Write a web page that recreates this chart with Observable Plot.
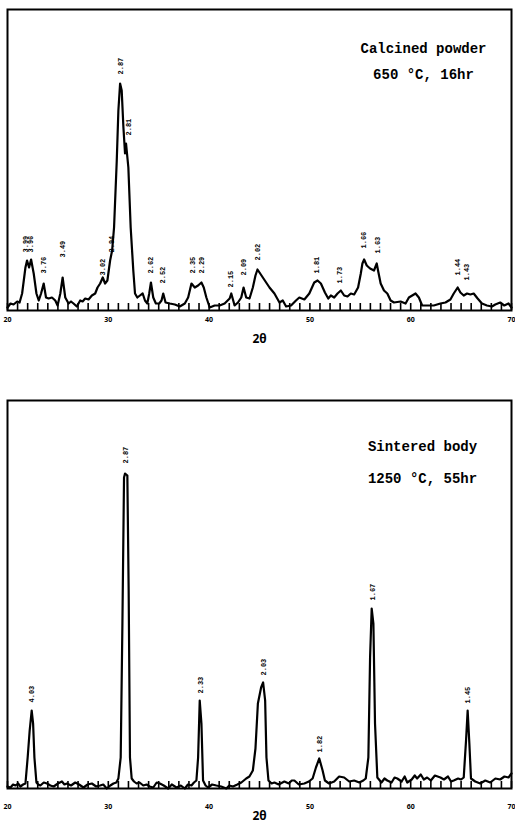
<!DOCTYPE html>
<html><head><meta charset="utf-8">
<script src="https://cdn.jsdelivr.net/npm/d3@7"></script>
<script src="https://cdn.jsdelivr.net/npm/@observablehq/plot@0.6"></script>
<style>body{margin:0;background:#fff} #chart svg{display:block}</style>
</head><body><div id="chart"></div>
<script>
// 2θ (degrees), intensity (arbitrary units)
const calcined = [[20.0,3],[20.3,7],[20.6,6],[20.96,9],[21.2,8],[21.45,17],[21.78,43],[21.94,50],[22.14,43],[22.34,51],[22.6,37],[22.87,17],[23.1,10],[23.33,17],[23.59,27],[23.82,13],[24.08,12],[24.41,13],[24.74,10],[24.97,5],[25.24,17],[25.47,33],[25.73,13],[26.06,7],[26.3,9],[26.55,7],[26.88,4],[27.21,10],[27.45,9],[27.71,12],[28.04,11],[28.37,15],[28.7,17],[28.93,23],[29.19,27],[29.45,33],[29.68,27],[29.91,30],[30.18,50],[30.38,60],[30.57,83],[30.84,150],[31.0,200],[31.17,227],[31.33,220],[31.5,183],[31.66,157],[31.76,167],[31.99,143],[32.22,83],[32.48,40],[32.65,17],[32.88,13],[33.14,15],[33.41,17],[33.64,10],[33.87,7],[34.06,17],[34.23,28],[34.46,13],[34.72,7],[35.05,7],[35.28,10],[35.45,17],[35.68,8],[36.11,7],[36.6,6],[37.09,4],[37.59,7],[37.92,13],[38.25,27],[38.58,23],[38.91,25],[39.24,28],[39.47,23],[39.73,13],[40.06,3],[40.55,5],[41.05,5],[41.54,7],[42.04,12],[42.2,17],[42.53,5],[42.86,8],[43.19,13],[43.42,23],[43.68,13],[44.01,12],[44.34,23],[44.6,35],[44.8,41],[45.0,38],[45.33,33],[45.66,28],[45.99,23],[46.48,17],[46.98,8],[47.31,10],[47.64,4],[48.13,5],[48.62,10],[48.95,13],[49.45,11],[49.94,17],[50.43,28],[50.76,30],[51.09,27],[51.49,18],[51.82,12],[52.08,15],[52.41,13],[52.74,17],[53.07,20],[53.4,15],[53.73,14],[54.06,17],[54.39,16],[54.78,23],[55.05,37],[55.21,47],[55.38,51],[55.64,45],[55.97,42],[56.36,40],[56.63,47],[56.76,40],[57.02,27],[57.35,20],[57.68,17],[58.01,10],[58.34,8],[59.0,9],[59.49,7],[59.82,13],[60.15,15],[60.48,17],[60.81,13],[61.14,5],[61.63,5],[62.29,5],[62.95,7],[63.45,8],[63.94,11],[64.27,17],[64.66,23],[64.93,18],[65.26,15],[65.59,17],[65.92,16],[66.25,17],[66.64,12],[67.07,7],[67.56,5],[68.06,4],[68.39,6],[68.88,8],[69.28,5],[69.7,7],[70.0,3]];

const sintered = [[20.0,2],[20.3,1],[20.55,4],[20.79,3],[21.05,5],[21.28,2],[21.55,4],[21.78,5],[22.0,31],[22.2,58],[22.4,78],[22.54,65],[22.67,31],[22.87,6],[23.05,4],[23.26,3],[23.6,6],[23.92,5],[24.25,3],[24.58,2],[25.0,5],[25.4,7],[25.65,4],[25.9,5],[26.3,3],[26.72,6],[27.1,4],[27.54,1],[27.95,4],[28.37,5],[28.8,2],[29.19,3],[29.5,4],[29.85,0],[30.2,3],[30.51,5],[30.8,6],[31.0,10],[31.23,31],[31.4,165],[31.56,311],[31.66,315],[31.89,313],[32.02,198],[32.15,31],[32.32,10],[32.55,7],[32.81,5],[33.1,6],[33.47,3],[33.8,4],[34.1,2],[34.46,1],[34.8,6],[35.12,5],[35.5,3],[35.94,0],[36.3,4],[36.77,1],[37.2,3],[37.59,0],[37.9,4],[38.25,3],[38.5,6],[38.74,8],[38.91,31],[39.07,88],[39.24,65],[39.4,8],[39.65,3],[39.9,1],[40.3,4],[40.72,3],[41.2,2],[41.71,0],[42.0,3],[42.37,2],[42.8,4],[43.2,6],[43.68,10],[44.0,12],[44.34,18],[44.6,40],[44.84,85],[45.16,101],[45.36,106],[45.56,88],[45.69,31],[45.89,8],[46.2,5],[46.48,6],[46.9,4],[47.47,7],[47.9,5],[48.2,8],[48.46,8],[48.9,4],[49.45,5],[49.9,7],[50.27,10],[50.6,21],[50.93,30],[51.26,18],[51.49,8],[51.9,5],[52.41,7],[52.9,12],[53.4,11],[53.9,7],[54.39,8],[54.9,6],[55.3,8],[55.54,10],[55.8,31],[55.97,131],[56.13,180],[56.3,165],[56.46,65],[56.69,11],[57.1,6],[57.4,10],[57.68,8],[58.1,6],[58.4,11],[58.67,10],[59.1,7],[59.4,12],[59.66,6],[60.1,9],[60.4,13],[60.64,10],[61.0,14],[61.3,9],[61.63,11],[62.0,8],[62.4,13],[62.95,11],[63.3,9],[63.7,12],[64.0,7],[64.27,8],[64.7,10],[65.0,9],[65.26,11],[65.49,48],[65.65,78],[65.82,45],[65.98,10],[66.4,7],[66.9,5],[67.4,8],[67.89,6],[68.4,10],[68.88,9],[69.3,12],[69.7,11],[70.0,15]];

// peak d-spacing labels: 2θ position, label base intensity, text
const calcinedLabelTheta = [21.85,22.3,23.59,25.47,29.45,30.38,31.2,32.06,34.2,35.45,38.35,39.26,42.1,43.45,44.8,50.7,53.0,55.38,56.7,64.66,65.59];
const calcinedLabelBase  = [58,58,37,53,35,58,236,175,37,27,37,37,23,35,50,37,27,62,57,35,30];
const calcinedLabelText  = ["3.99","3.96","3.76","3.49","3.02","2.94","2.87","2.81","2.62","2.52","2.35","2.29","2.15","2.09","2.02","1.81","1.73","1.66","1.63","1.44","1.43"];

const sinteredLabelTheta = [22.44,31.76,39.14,45.43,50.99,56.2,65.68];
const sinteredLabelBase  = [86,325,95,113,36,188,85];
const sinteredLabelText  = ["4.03","2.87","2.33","2.03","1.82","1.67","1.45"];

const majorTicks = [20,30,40,50,60,70];
const minorTicks = d3.range(20, 71, 1);
const calcinedTitle = ["Calcined powder", "650 °C, 16hr"];
const sinteredTitle = ["Sintered body", "1250 °C, 55hr"];
const axisTitle = "2θ";

const mono = "'Liberation Mono', 'DejaVu Sans Mono', monospace";

function labels(theta, base, text) {
  return theta.map((t, i) => ({theta: t, base: base[i], label: text[i]}));
}

function panel({trace, peaks, titles, yMax, height, marginTop, marginBottom, tickPad, axisDy, titleDx, titleDy}) {
  const plotH = height - marginTop - marginBottom;
  const tickLen = yMax * 7 / plotH;   // 7 px inward ticks, in data units
  return Plot.plot({
    width: 515, height, marginLeft: 7, marginRight: 4, marginTop, marginBottom,
    x: {domain: [20, 70], axis: null},
    y: {domain: [0, yMax], axis: null},
    style: {background: "white", color: "black"},
    marks: [
      Plot.ruleX(minorTicks, {x: d => d, y1: 0, y2: tickLen, stroke: "black", strokeWidth: 1.6}),
      Plot.frame({stroke: "black", strokeWidth: 2}),
      Plot.line(trace, {x: d => d[0], y: d => d[1], stroke: "black", strokeWidth: 2.2, strokeLinejoin: "round"}),
      Plot.text(peaks, {x: "theta", y: "base", text: "label", rotate: -90, textAnchor: "start", fontSize: 7, fontWeight: "bold", fontFamily: mono, fill: "black"}),
      Plot.axisX({ticks: majorTicks, tickSize: 0, tickPadding: tickPad, fontSize: 7, fontWeight: "bold", label: null}),
      Plot.text([axisTitle], {text: d => d, frameAnchor: "bottom", dy: axisDy, fontSize: 12, fontWeight: "bold"}),
      Plot.text([titles[0]], {text: d => d, frameAnchor: "top-right", textAnchor: "middle", dx: titleDx, dy: titleDy[0], fontSize: 14, fontWeight: "bold", fontFamily: mono}),
      Plot.text([titles[1]], {text: d => d, frameAnchor: "top-right", textAnchor: "middle", dx: titleDx, dy: titleDy[1], fontSize: 14, fontWeight: "bold", fontFamily: mono})
    ]
  });
}

const chart = document.getElementById("chart");
chart.append(panel({
  trace: calcined,
  peaks: labels(calcinedLabelTheta, calcinedLabelBase, calcinedLabelText),
  titles: calcinedTitle, yMax: 301, height: 360, marginTop: 9, marginBottom: 50,
  tickPad: 7, axisDy: 32, titleDx: -88, titleDy: [34, 60]
}));
chart.append(panel({
  trace: sintered,
  peaks: labels(sinteredLabelTheta, sinteredLabelBase, sinteredLabelText),
  titles: sinteredTitle, yMax: 388, height: 475, marginTop: 40, marginBottom: 47,
  tickPad: 16, axisDy: 31, titleDx: -89, titleDy: [41, 73]
}));
</script>
</body></html>
